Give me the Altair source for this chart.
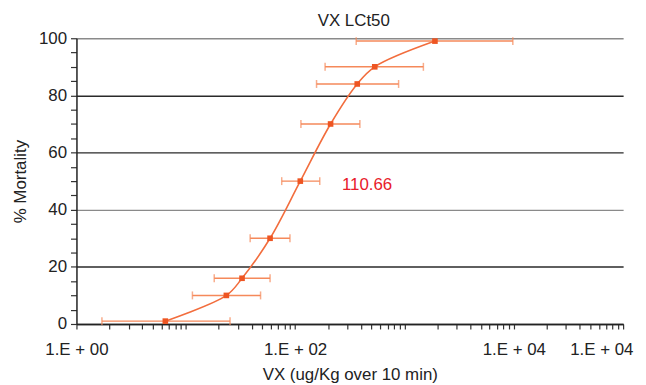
import altair as alt
import pandas as pd

# ---- data ----
mortality = [1, 10, 16, 30, 50, 70, 84, 90, 99]
dose = [6.5, 23.5, 32.7, 59, 111.5, 211, 370, 535, 1900]
dose_low = [1.71, 11.5, 18.2, 38.8, 75.4, 113, 157, 188, 362]
dose_high = [25.4, 48.3, 59, 89.7, 168, 391, 884, 1490, 9800]

annot_text = ["110.66"]
annot_x = [455]
annot_y = [48.5]

x_label_vals = [1, 100, 10000, 100000]
x_label_text = ["1.E + 00", "1.E + 02", "1.E + 04", "1.E + 04"]
x_minor_vals = [m * 10 ** k for k in range(5) for m in range(1, 10)] + [100000]
y_vals = list(range(0, 101, 5))

df = pd.DataFrame({"dose": dose, "mortality": mortality, "low": dose_low, "high": dose_high})
annot = pd.DataFrame({"x": annot_x, "y": annot_y, "t": annot_text})

FONT = "Liberation Sans"
LINE = "#f26d3d"
ERR = "#f5895a"
MARK = "#ee5522"

label_expr = " : ".join(
    f"datum.value == {v} ? '{t}'" for v, t in zip(x_label_vals, x_label_text)
) + " : ''"

x_scale = alt.Scale(type="log", domain=[1, 100000], nice=False)
y_scale = alt.Scale(domain=[0, 100], nice=False)

x_axis = alt.Axis(
    values=x_minor_vals,
    labelExpr=label_expr,
    labelOverlap=False,
    labelFlush=False,
    labelBound=False,
    labelOffset={"condition": {"test": "datum.value == 100000", "value": -22}, "value": 0},
    grid=False,
    tickSize=5,
    tickColor="#333",
    tickWidth=1.2,
    domainColor="#222",
    domainWidth=1.5,
    labelPadding=13,
    labelFontSize=17,
    labelColor="#222",
    labelFont=FONT,
    title="VX (ug/Kg over 10 min)",
    titleFontSize=17,
    titleFontWeight="normal",
    titleColor="#222",
    titleFont=FONT,
    titlePadding=9,
)

y_axis = alt.Axis(
    values=y_vals,
    labelExpr="datum.value % 20 == 0 ? datum.label : ''",
    labelOverlap=False,
    grid=True,
    gridOpacity={"condition": {"test": "datum.value % 20 != 0", "value": 0}, "value": 1},
    gridColor={"condition": {"test": "datum.value == 100 || datum.value == 40", "value": "#8a8a8a"}, "value": "#2a2a2a"},
    gridWidth=1.4,
    tickSize=6,
    tickColor="#333",
    tickWidth=1.2,
    domainColor="#222",
    domainWidth=1.5,
    labelPadding=4,
    labelFontSize=17,
    labelColor="#222",
    labelFont=FONT,
    title="% Mortality",
    titleFontSize=17,
    titleFontWeight="normal",
    titleColor="#222",
    titleFont=FONT,
    titlePadding=9,
)


def X(field):
    return alt.X(f"{field}:Q", scale=x_scale, axis=x_axis)


Y = alt.Y("mortality:Q", scale=y_scale, axis=y_axis)

line = alt.Chart(df).mark_line(color=LINE, strokeWidth=1.6, interpolate="catmull-rom").encode(
    x=X("dose"), y=Y
)
bars = alt.Chart(df).mark_rule(color=ERR, strokeWidth=1.5).encode(
    x=X("low"), x2="high:Q", y=Y
)
cap_lo = alt.Chart(df).mark_tick(color=ERR, orient="vertical", size=8, thickness=1.5).encode(
    x=X("low"), y=Y
)
cap_hi = alt.Chart(df).mark_tick(color=ERR, orient="vertical", size=8, thickness=1.5).encode(
    x=X("high"), y=Y
)
pts = alt.Chart(df).mark_point(shape="square", filled=True, color=MARK, size=32, opacity=1).encode(
    x=X("dose"), y=Y
)
txt = alt.Chart(annot).mark_text(color="#e8202a", fontSize=17, font=FONT).encode(
    x=alt.X("x:Q", scale=x_scale, axis=x_axis),
    y=alt.Y("y:Q", scale=y_scale, axis=y_axis),
    text="t:N",
)

chart = (
    alt.layer(bars, cap_lo, cap_hi, line, pts, txt)
    .properties(
        width=551,
        height=288,
        autosize=alt.AutoSizeParams(type="none"),
        padding={"left": 69, "top": 29, "right": 15, "bottom": 60},
        title=alt.TitleParams(
            "VX LCt50", fontSize=17, fontWeight="normal", color="#222", font=FONT,
            anchor="middle", offset=-1, dx=4,
        ),
    )
    .configure_view(stroke=None)
)

chart.save("out.html", embed_options={"renderer": "svg", "actions": False})
